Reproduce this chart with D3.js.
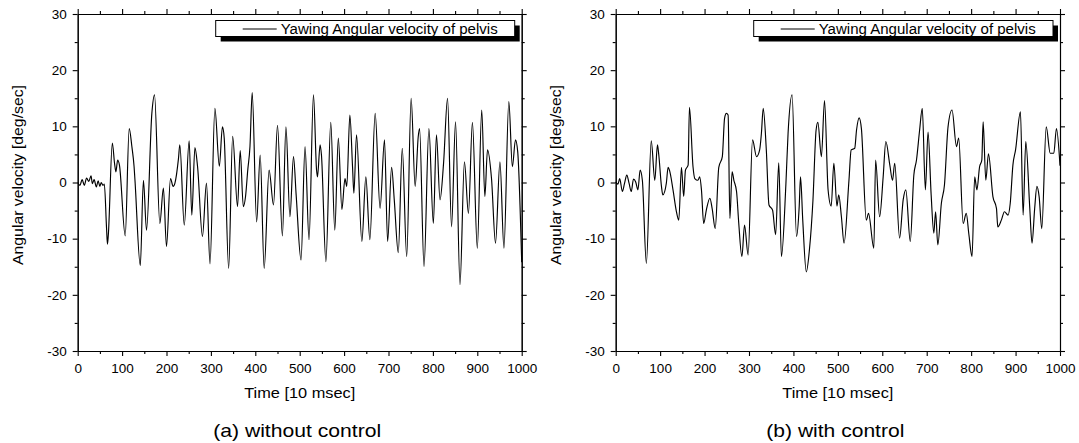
<!DOCTYPE html>
<html>
<head>
<meta charset="utf-8">
<script src="https://cdn.jsdelivr.net/npm/d3@7"></script>
<style>
  html, body { margin: 0; padding: 0; background: #fff; }
  svg { display: block; }
  text { font-family: "Liberation Sans", Arial, sans-serif; fill: #000; }
</style>
</head>
<body>
<svg id="chart" width="1079" height="443"></svg>
<script>
// ---------- data ----------
const xTicks = [0, 100, 200, 300, 400, 500, 600, 700, 800, 900, 1000];
const xMinorTicks = [50, 150, 250, 350, 450, 550, 650, 750, 850, 950];
const yTicks = [-30, -20, -10, 0, 10, 20, 30];
const yMinorTicks = [-25, -15, -5, 5, 15, 25];

const xTitle = "Time [10 msec]";
const yTitle = "Angular velocity [deg/sec]";
const seriesName = "Yawing Angular velocity of pelvis";
const captions = ["(a) without control", "(b) with control"];

// (a) without control
const timeA = [0,5,10,15,20,25,30,33,37,42,46,50,53,57,60,65,67,69,78,83,86,90,94,107,116,122,127,129,141,148,155,167,173,185,193,200,209,215,219,227,230,240,251,257,264,270,281,290,298,309,319,326,330,340,349,360,366,373,378,383,388,393,403,411,420,431,441,450,461,469,478,486,492,503,512,521,531,538,540,546,549,559,570,579,587,595,602,606,613,619,622,628,640,649,658,670,681,691,698,707,713,722,731,741,751,760,767,770,780,791,801,808,816,824,833,842,851,861,871,880,889,900,910,917,923,932,941,951,960,971,979,986,991,1000];
const velocityA = [0,-0.5,0.5,-0.5,0.8,0.2,1.2,-0.2,0.5,-0.8,0.3,-0.7,0,-0.5,-0.3,-8.2,-11.0,-9.3,7.0,3.4,1.9,4.0,3.1,-9.5,9.6,6.4,2.8,0.4,-14.8,0.4,-8.5,12.3,15.6,-7.3,-1.0,-11.4,0.7,-0.7,-0.1,4.3,6.7,-7.6,7.4,-5.8,6.2,2.8,-9.6,-0.1,-14.5,13.2,2.9,9.9,7.9,-15.3,8.2,-4.3,5.7,-4.3,-2.5,2.2,6.4,16.0,-7.0,4.9,-15.3,2.2,-4.0,10.2,-9.5,9.9,-6.1,4.6,-2.2,-13.8,6.4,-10.2,15.6,2.2,1.0,6.7,4.9,-14.1,10.7,-8.5,7.9,-4.8,0.7,-0.7,12.0,2.8,-1.9,8.5,-10.5,1.0,-10.2,12.3,-4.6,7.6,-10.5,2.7,-3.1,-12.5,6.1,-13.2,15.0,-0.7,8.2,9.6,-15.0,9.6,-7.3,8.5,-3.1,3.4,15.0,-7.9,10.8,-18.2,3.7,-5.5,10.7,-11.7,12.9,-2.5,5.8,0.7,-10.8,3.7,-11.7,14.4,2.8,7.6,5.5,-14.2];

// (b) with control
const timeB = [0,5,9,15,20,25,30,35,40,45,50,55,60,69,80,88,94,97,103,106,114,118,121,129,136,142,148,153,157,163,166,174,178,185,189,193,198,204,212,217,224,232,240,245,249,253,257,262,266,272,277,284,290,298,308,317,324,328,332,339,345,353,360,367,373,383,388,397,407,413,416,421,429,436,444,451,455,463,470,478,485,491,498,502,508,514,525,530,538,542,548,553,564,569,581,585,594,602,608,617,623,628,639,647,653,663,671,677,684,690,697,703,710,716,720,725,733,740,748,757,767,772,782,789,795,802,808,813,819,824,827,833,839,849,857,860,868,875,883,888,894,900,911,917,923,932,937,943,948,953,959,969,978,986,992,1000];
const velocityB = [0.1,-0.3,0.7,-1.6,-0.1,1.3,-0.1,-1.6,0.6,0.1,-1.3,2.2,0.4,-14.4,7.4,0.4,6.7,4.9,-0.7,-2.2,-0.1,2.7,2.2,-1.3,-4.9,-6.7,2.7,-2.5,2.2,3.1,13.4,2.8,0.7,0.4,1.0,-1.3,-7.3,-4.9,-2.8,-4.6,-8.2,2.7,4.6,11.4,12.3,12.0,-6.4,1.9,0.4,-1.6,-7.3,-13.2,-7.6,-12.9,7.6,4.6,5.8,8.8,13.2,5.8,-4.0,-4.9,-9.3,3.5,-13.2,-0.4,8.8,15.6,-9.6,-4.3,1.0,-6.7,-15.9,-12.0,-3.1,9.3,10.7,4.6,14.6,-1.3,-4.2,3.4,-4.2,-2.2,-6.1,-10.8,0.4,5.8,6.1,9.3,11.5,9.6,-6.7,-5.5,-11.7,4.0,-6.1,1.0,7.3,3.1,0.4,3.4,-9.9,-3.1,-1.3,-10.5,1.3,4.0,9.3,13.2,-1.3,9.0,-2.2,-9.0,-5.2,-11.1,-3.7,-0.4,9.9,12.9,6.4,7.9,-7.3,-5.5,-9.3,-13.2,1.0,-1.3,2.8,4.0,10.8,0.4,5.1,-2.5,-4.6,-7.9,-6.7,-5.2,-5.8,-3.7,3.1,5.8,12.6,-5.8,7.3,-4.6,-10.8,-4.6,-0.7,-2.5,-8.2,9.9,5.2,5.2,9.6,3.0];

// ---------- layout ----------
const panels = [
  { x0: 77.7,  x1: 521.7, time: timeA, vel: velocityA, caption: captions[0], capW: 168 },
  { x0: 615.7, x1: 1060,  time: timeB, vel: velocityB, caption: captions[1], capW: 138 }
];
const yTop = 14, yBot = 351;
const fmt = d => String(d);   // plain hyphen-minus like the reference

const svg = d3.select("#chart");

panels.forEach(p => {
  const x = d3.scaleLinear().domain([0, 1000]).range([p.x0, p.x1]);
  const y = d3.scaleLinear().domain([-30, 30]).range([yBot, yTop]);
  const g = svg.append("g");

  const styleAxis = sel => {
    sel.selectAll("path.domain").attr("stroke", "#000").attr("stroke-width", 1.1);
    sel.selectAll(".tick line").attr("stroke", "#000").attr("stroke-width", 1.1);
    sel.selectAll("text").style("font-size", "13.5px").attr("fill", "#000")
       .style("font-family", '"Liberation Sans", Arial, sans-serif');
  };

  // bottom
  g.append("g").attr("transform", `translate(0,${yBot})`)
    .call(d3.axisBottom(x).tickValues(xMinorTicks).tickSize(3).tickSizeOuter(0).tickFormat(""))
    .call(styleAxis);
  g.append("g").attr("transform", `translate(0,${yBot})`)
    .call(d3.axisBottom(x).tickValues(xTicks).tickSize(5).tickSizeOuter(0).tickPadding(7).tickFormat(fmt))
    .call(styleAxis);
  // top
  g.append("g").attr("transform", `translate(0,${yTop})`)
    .call(d3.axisTop(x).tickValues(xMinorTicks).tickSize(3).tickSizeOuter(0).tickFormat(""))
    .call(styleAxis);
  g.append("g").attr("transform", `translate(0,${yTop})`)
    .call(d3.axisTop(x).tickValues(xTicks).tickSize(5).tickSizeOuter(0).tickFormat(""))
    .call(styleAxis);
  // left
  g.append("g").attr("transform", `translate(${p.x0},0)`)
    .call(d3.axisLeft(y).tickValues(yMinorTicks).tickSize(3).tickSizeOuter(0).tickFormat(""))
    .call(styleAxis);
  g.append("g").attr("transform", `translate(${p.x0},0)`)
    .call(d3.axisLeft(y).tickValues(yTicks).tickSize(5).tickSizeOuter(0).tickPadding(6).tickFormat(fmt))
    .call(styleAxis);
  // right
  g.append("g").attr("transform", `translate(${p.x1},0)`)
    .call(d3.axisRight(y).tickValues(yMinorTicks).tickSize(3).tickSizeOuter(0).tickFormat(""))
    .call(styleAxis);
  g.append("g").attr("transform", `translate(${p.x1},0)`)
    .call(d3.axisRight(y).tickValues(yTicks).tickSize(5).tickSizeOuter(0).tickFormat(""))
    .call(styleAxis);

  // data line
  const pts = p.time.map((t, i) => [t, p.vel[i]]);
  g.append("path")
    .datum(pts)
    .attr("fill", "none")
    .attr("stroke", "#000")
    .attr("stroke-width", 1.15)
    .attr("stroke-linejoin", "round")
    .attr("d", d3.line().curve(d3.curveMonotoneX).x(d => x(d[0])).y(d => y(d[1])));

  // legend
  const bx = p.x0 + 138, bw = (p.x1 - 7) - bx, by = 20.5, bh = 16;
  g.append("rect").attr("x", bx + 5).attr("y", by + 5).attr("width", bw).attr("height", bh).attr("fill", "#000");
  g.append("rect").attr("x", bx).attr("y", by).attr("width", bw).attr("height", bh)
    .attr("fill", "#fff").attr("stroke", "#000").attr("stroke-width", 1);
  g.append("line").attr("x1", bx + 27).attr("x2", bx + 61).attr("y1", by + 8.5).attr("y2", by + 8.5)
    .attr("stroke", "#000").attr("stroke-width", 1.1);
  g.append("text").attr("x", bx + 65).attr("y", by + 13.5)
    .style("font-size", "14px")
    .attr("textLength", 217).attr("lengthAdjust", "spacingAndGlyphs")
    .text(seriesName);

  // axis titles
  const cx = (p.x0 + p.x1) / 2;
  g.append("text").attr("x", cx).attr("y", 398).attr("text-anchor", "middle")
    .style("font-size", "15.5px").attr("textLength", 111).attr("lengthAdjust", "spacingAndGlyphs")
    .text(xTitle);
  g.append("text")
    .attr("transform", `translate(${p.x0 - 60},175) rotate(-90)`)
    .attr("text-anchor", "middle").attr("dy", "0.35em")
    .style("font-size", "15px").attr("textLength", 180).attr("lengthAdjust", "spacingAndGlyphs")
    .text(yTitle);

  // caption
  g.append("text").attr("x", cx - 2.5).attr("y", 437).attr("text-anchor", "middle")
    .style("font-size", "19px").attr("textLength", p.capW).attr("lengthAdjust", "spacingAndGlyphs")
    .text(p.caption);
});
</script>
</body>
</html>
